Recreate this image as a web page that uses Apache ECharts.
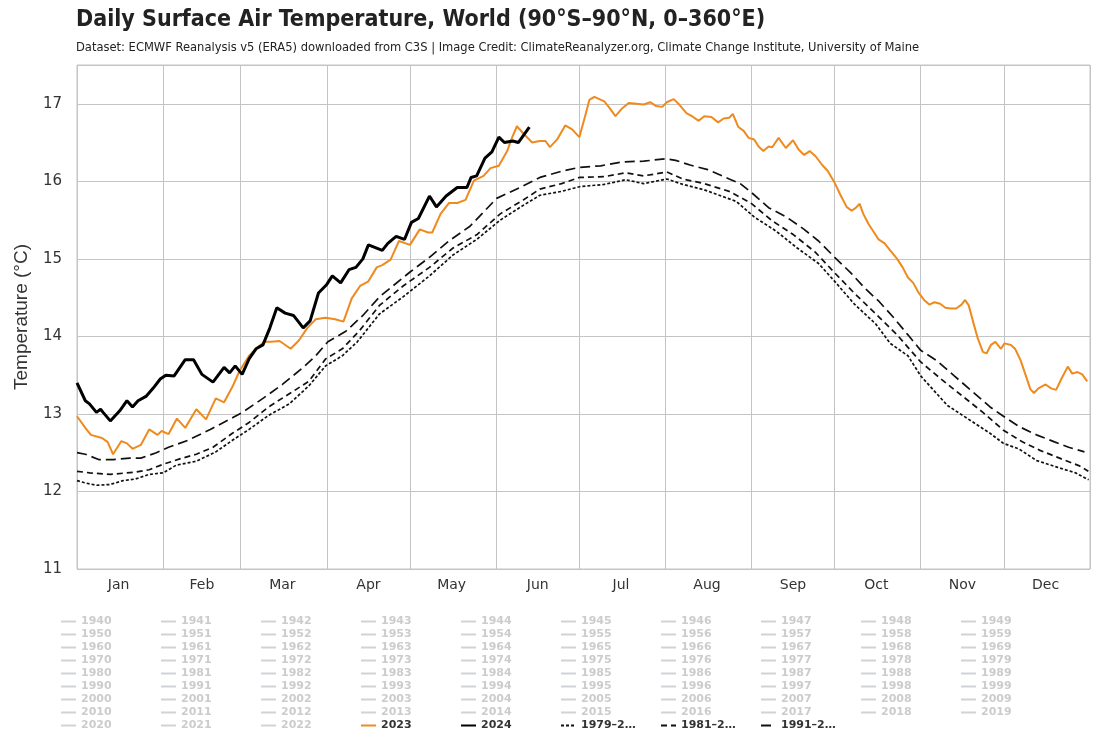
<!DOCTYPE html>
<html>
<head>
<meta charset="utf-8">
<script src="https://cdn.jsdelivr.net/npm/echarts@6/dist/echarts.min.js"></script>
<style>html,body{margin:0;padding:0;background:#fff}#c{width:1100px;height:750px}</style>
</head>
<body>
<div id="c"></div>
<script>
// ---- Data (day of year, 0 = Jan 1) ----
const monthNames = ['Jan','Feb','Mar','Apr','May','Jun','Jul','Aug','Sep','Oct','Nov','Dec'];
const monthStartDays = [0,31,59,90,120,151,181,212,243,273,304,334,365];
const monthLabelDays = [15,45,74,105,135,166,196,227,258,288,319,349];
const yTicks = [11,12,13,14,15,16,17];

const days2023 = [0,3,5,9,11,13,16,18,20,23,26,29,30.5,33,36,39,43,46.5,50,53,56,58.5,62,64.5,67.5,70,73,77,80,83,86,89.5,93,96,99,102,105,108,110,113,116,120,123.5,126.5,128,131,134,137,140,143,146.5,149,152,155,156.5,158.5,161,164,166.8,168.8,170.4,173,175.9,178.4,181,183,184.6,186.4,190,192,194,196.4,198.8,201.6,204.2,206.5,208.7,210.9,212.5,215,217,219.6,222,224,226,228.6,231,233,235,236.3,238.3,240.2,242,244,245.6,247.3,249.2,250.5,252.8,255.4,258,260,262,264,266.2,268.5,270.4,273,275,277.3,279.1,280.7,282,283.3,285.2,287.2,288.8,291,293,295.5,297.5,299.4,301.3,303.3,305.2,307.1,309,311,312.9,314.8,316.8,318.7,320,321.3,322.8,324.5,326.4,327.7,329.3,330.9,332.9,334.2,336.5,338,340,341.9,343.5,344.8,346.4,349,351,352.8,354.8,357,358.6,360.5,362.2,364];
const temp2023 = [12.97,12.82,12.73,12.69,12.64,12.48,12.65,12.62,12.55,12.60,12.80,12.73,12.78,12.74,12.94,12.82,13.06,12.93,13.20,13.15,13.35,13.55,13.75,13.84,13.93,13.93,13.94,13.84,13.95,14.11,14.22,14.24,14.22,14.19,14.49,14.65,14.71,14.89,14.92,14.99,15.23,15.18,15.38,15.34,15.34,15.58,15.72,15.72,15.76,16.01,16.07,16.17,16.20,16.39,16.54,16.71,16.61,16.50,16.52,16.52,16.44,16.54,16.72,16.67,16.57,16.83,17.05,17.09,17.03,16.94,16.84,16.94,17.01,17.00,16.99,17.02,16.97,16.96,17.02,17.06,16.99,16.88,16.83,16.78,16.84,16.83,16.76,16.81,16.82,16.87,16.70,16.65,16.56,16.54,16.45,16.39,16.45,16.44,16.56,16.43,16.53,16.41,16.34,16.39,16.32,16.21,16.14,15.98,15.83,15.67,15.62,15.66,15.71,15.58,15.45,15.34,15.25,15.20,15.11,15.00,14.89,14.76,14.69,14.56,14.47,14.41,14.44,14.42,14.37,14.36,14.36,14.41,14.47,14.40,14.20,13.98,13.80,13.78,13.89,13.93,13.84,13.91,13.89,13.84,13.69,13.49,13.32,13.27,13.33,13.38,13.33,13.31,13.46,13.61,13.52,13.54,13.51,13.42];

const days2024 = [0,3,4.5,7,8.5,9.4,12,15.4,18,20,22,25,27.4,30,32,35,39,42,45,49,53,55,57,59.5,62,64.5,67,69.5,72,75,78,81.5,84,87,90,92,95,98,100.5,103,105,110,112,115,118,120.5,123,127,129.5,133,137,140.5,142,144,147,149.5,152,154,157,159,163];
const temp2024 = [13.40,13.17,13.13,13.02,13.06,13.02,12.91,13.04,13.17,13.09,13.17,13.23,13.33,13.45,13.50,13.49,13.70,13.70,13.51,13.41,13.60,13.53,13.62,13.51,13.71,13.84,13.89,14.11,14.37,14.30,14.27,14.11,14.20,14.56,14.67,14.78,14.69,14.86,14.89,15.00,15.18,15.11,15.20,15.29,15.25,15.47,15.52,15.81,15.67,15.81,15.92,15.92,16.05,16.07,16.30,16.38,16.57,16.50,16.52,16.50,16.70];

const daysMean1991 = [0,3,8,13,19,23,28.6,33,40,48,56,59.6,67,74,81.5,86,90.4,97,103,109,120,127,134,141.6,151.2,159.6,166.8,174.6,181,188.7,196.4,204.2,212,215.7,220.9,227.3,235,239,243.2,249.2,255.6,262,267.2,273,278.8,283.9,289,294.3,299.4,304,309.7,316.1,322.6,329,333.8,339.3,345.7,352.2,357.3,361.2,363];
const tempMean1991 = [12.50,12.48,12.41,12.41,12.43,12.43,12.50,12.57,12.66,12.80,12.95,13.02,13.20,13.38,13.60,13.75,13.93,14.07,14.27,14.51,14.83,15.02,15.23,15.42,15.78,15.92,16.05,16.13,16.18,16.20,16.25,16.26,16.29,16.27,16.21,16.15,16.03,15.97,15.85,15.66,15.54,15.38,15.23,15.02,14.82,14.62,14.45,14.24,14.02,13.82,13.69,13.49,13.29,13.09,12.97,12.84,12.73,12.64,12.57,12.53,12.51];

const daysMean1981 = [0,4.6,12,21,26,31,37,43,49,56,62,69,76.5,83.5,89.6,95.6,101.7,109,117.5,127,135.5,144,152.5,160.8,166.8,174.6,181,190,197.7,204.2,212.5,218.3,226,235,242.8,250.5,258.2,265.9,273,280,287.8,295.5,304,311,318.7,326.4,333.8,340.6,347,354.7,361.2,364.4];
const tempMean1981 = [12.26,12.24,12.22,12.25,12.28,12.35,12.42,12.48,12.57,12.75,12.89,13.09,13.26,13.42,13.71,13.84,14.07,14.40,14.65,14.89,15.14,15.31,15.58,15.76,15.90,15.97,16.05,16.06,16.11,16.07,16.12,16.03,15.97,15.87,15.72,15.49,15.31,15.09,14.82,14.56,14.29,14.02,13.67,13.46,13.24,13.02,12.79,12.64,12.53,12.42,12.33,12.26];

const daysMean1979 = [0,3,7,12,16.6,21,26,31,35.8,43,50,56,62,69,76.5,83.5,89.6,95.6,101,109,117.5,127,135.5,144,152.5,160.8,166.8,174.6,181,190,197.7,204.2,212.5,218.3,226,237.6,244,251.8,259.5,267.2,273,280,287.8,293,299.4,304,313.6,321.3,329,333.8,339.3,345.7,353.4,359.8,364.5];
const tempMean1979 = [12.14,12.11,12.08,12.09,12.14,12.16,12.22,12.24,12.34,12.39,12.51,12.66,12.80,12.98,13.13,13.36,13.62,13.75,13.93,14.29,14.51,14.78,15.05,15.25,15.50,15.69,15.82,15.87,15.93,15.96,16.02,15.97,16.03,15.96,15.89,15.74,15.54,15.36,15.14,14.94,14.71,14.42,14.16,13.91,13.75,13.49,13.11,12.93,12.75,12.62,12.55,12.40,12.31,12.24,12.15];

const hiddenYears = [];
for (let y = 1940; y <= 2022; y++) hiddenYears.push(String(y));

const name2023 = '2023', name2024 = '2024';
const nameM1979 = '1979–2000 mean', nameM1981 = '1981–2010 mean', nameM1991 = '1991–2020 mean';

// ---- Build ----
function pairs(d, v) { return d.map((x, i) => [x, v[i]]); }

const series = [];
hiddenYears.forEach(n => series.push({name: n, type: 'line', data: [], symbol: 'none', color: '#cccccc', lineStyle: {width: 1}}));
series.push({name: nameM1979, type: 'line', data: pairs(daysMean1979, tempMean1979), symbol: 'none', color: '#111', lineStyle: {width: 1.7, type: [3, 2]}, z: 3});
series.push({name: nameM1981, type: 'line', data: pairs(daysMean1981, tempMean1981), symbol: 'none', color: '#111', lineStyle: {width: 1.7, type: [6, 4]}, z: 3});
series.push({name: nameM1991, type: 'line', data: pairs(daysMean1991, tempMean1991), symbol: 'none', color: '#111', lineStyle: {width: 1.7, type: [10, 5]}, z: 3});
series.push({name: name2023, type: 'line', data: pairs(days2023, temp2023), symbol: 'none', color: '#ef8a1e', lineStyle: {width: 2}, z: 4});
series.push({name: name2024, type: 'line', data: pairs(days2024, temp2024), symbol: 'none', color: '#000', lineStyle: {width: 3}, z: 5});

const legendOrder = hiddenYears.concat([name2023, name2024, nameM1979, nameM1981, nameM1991]);
const selected = {};
hiddenYears.forEach(n => selected[n] = false);

const legends = [];
for (let c = 0; c < 10; c++) {
  legends.push({
    orient: 'vertical', left: 60 + 100 * c, top: 615, padding: 0,
    itemWidth: 15, itemHeight: 10, itemGap: 0,
    data: legendOrder.filter((_, i) => i % 10 === c),
    selected: selected,
    inactiveColor: '#cccccc',
    itemStyle: {opacity: 0},
    textStyle: {fontSize: 11, fontWeight: 'bold', color: '#333', fontFamily: 'DejaVu Sans', lineHeight: 13},
    formatter: n => n.indexOf('mean') >= 0 ? n.slice(0, 6) + '…' : n
  });
}

const chart = echarts.init(document.getElementById('c'), null, {renderer: 'canvas'});
chart.setOption({
  animation: false,
  backgroundColor: '#fff',
  title: {
    text: 'Daily Surface Air Temperature, World (90°S–90°N, 0–360°E)',
    subtext: 'Dataset: ECMWF Reanalysis v5 (ERA5) downloaded from C3S | Image Credit: ClimateReanalyzer.org, Climate Change Institute, University of Maine',
    left: 76, top: 9, itemGap: 9, padding: 0,
    textStyle: {fontSize: 23, fontWeight: 'bold', color: '#222', fontFamily: 'DejaVu Sans Condensed'},
    subtextStyle: {fontSize: 12.8, color: '#222', fontFamily: 'DejaVu Sans Condensed'}
  },
  legend: legends,
  grid: {left: 77, right: 10, top: 65, bottom: 181, show: true, borderColor: '#c4c4c4', borderWidth: 1},
  xAxis: {
    type: 'value', min: 0, max: 365,
    axisLine: {show: false},
    axisTick: {show: false, customValues: monthStartDays},
    splitLine: {show: true, lineStyle: {color: '#c4c4c4', width: 1}},
    axisLabel: {customValues: monthLabelDays, margin: 9, fontSize: 14, color: '#333', fontFamily: 'DejaVu Sans',
      formatter: v => monthNames[monthLabelDays.indexOf(v)] || ''}
  },
  yAxis: {
    type: 'value', min: 11, max: 17.5, interval: 1,
    name: 'Temperature (°C)', nameLocation: 'middle', nameGap: 46,
    nameTextStyle: {fontSize: 19, color: '#333', fontFamily: 'Liberation Sans'},
    axisLine: {show: false}, axisTick: {show: false},
    splitLine: {show: true, lineStyle: {color: '#c4c4c4', width: 1}},
    axisLabel: {margin: 15, fontSize: 15, color: '#333', fontFamily: 'DejaVu Sans', showMaxLabel: false,
      formatter: v => yTicks.indexOf(v) >= 0 ? String(v) : ''}
  },
  series: series
});
</script>
</body>
</html>
